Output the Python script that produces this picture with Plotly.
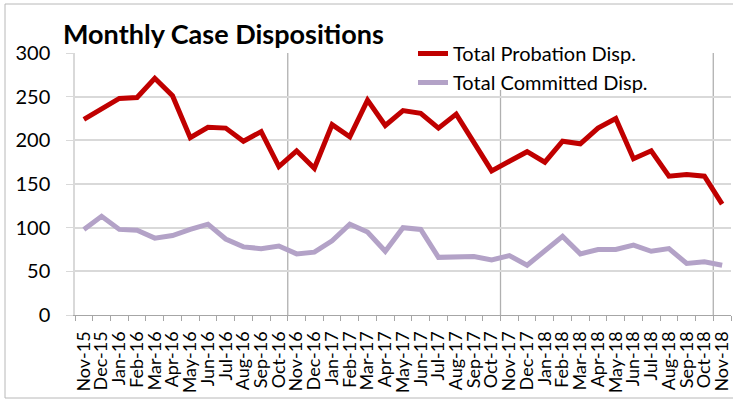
import plotly.graph_objects as go

months = ["Nov-15", "Dec-15", "Jan-16", "Feb-16", "Mar-16", "Apr-16", "May-16", "Jun-16",
          "Jul-16", "Aug-16", "Sep-16", "Oct-16", "Nov-16", "Dec-16", "Jan-17", "Feb-17",
          "Mar-17", "Apr-17", "May-17", "Jun-17", "Jul-17", "Aug-17", "Sep-17", "Oct-17",
          "Nov-17", "Dec-17", "Jan-18", "Feb-18", "Mar-18", "Apr-18", "May-18", "Jun-18",
          "Jul-18", "Aug-18", "Sep-18", "Oct-18", "Nov-18"]

probation = [224, 236, 248, 249, 271, 251, 203, 215, 214, 199, 210, 170,
             188, 168, 218, 204, 246, 217, 234, 231, 214, 230, 198, 165,
             176, 187, 175, 199, 196, 214, 225, 179, 188, 159, 161, 159, 127]

committed = [98, 113, 98, 97, 88, 91, 98, 104, 87, 78, 76, 79,
             70, 72, 85, 104, 95, 73, 100, 98, 66, 66, 67, 63,
             68, 57, 74, 90, 70, 75, 75, 80, 73, 76, 59, 61, 57]

y_ticks = [0, 50, 100, 150, 200, 250, 300]
year_starts = ["Nov-16", "Nov-17", "Nov-18"]

W, H = 733, 402
ML, MR, MT, MB = 75, 2, 53, 87
PW, PH = W - ML - MR, H - MT - MB


def px_x(p):
    return (p - ML) / PW


def px_y(p):
    return (H - MB - p) / PH


FONT = "Lato"

fig = go.Figure()
fig.add_trace(go.Scatter(x=months, y=probation, mode="lines", name="Total Probation Disp.",
                         line=dict(color="#c00000", width=5)))
fig.add_trace(go.Scatter(x=months, y=committed, mode="lines", name="Total Committed Disp.",
                         line=dict(color="#b3a2c7", width=5)))

shapes = []
for m in year_starts:
    xi = months.index(m) - 0.5
    shapes.append(dict(type="line", xref="x", yref="y", x0=xi, x1=xi, y0=0, y1=300,
                       line=dict(color="#b0b0b0", width=1.3), layer="below"))
# white area behind legend
shapes.append(dict(type="rect", xref="paper", yref="paper",
                   x0=px_x(326), x1=px_x(708), y0=px_y(90), y1=px_y(38),
                   fillcolor="white", line=dict(width=0), layer="above"))
# chart border
shapes.append(dict(type="rect", xref="paper", yref="paper",
                   x0=px_x(5), x1=px_x(740), y0=px_y(398), y1=px_y(4),
                   fillcolor="rgba(0,0,0,0)", line=dict(color="#b8b8b8", width=1), layer="below"))

fig.update_layout(
    width=W, height=H,
    margin=dict(l=ML, r=MR, t=MT, b=MB, autoexpand=False),
    paper_bgcolor="white", plot_bgcolor="white",
    font=dict(family=FONT, color="black", size=20),
    title=dict(text="<b>Monthly Case Dispositions</b>", x=63 / W,
               xanchor="left", xref="container", y=1 - 35 / H, yanchor="middle",
               yref="container", font=dict(family=FONT, size=27, color="black")),
    showlegend=True,
    legend=dict(x=px_x(413), y=1 - 34 / H, xanchor="left", yanchor="top", yref="container",
                bgcolor="rgba(0,0,0,0)", font=dict(family=FONT, size=20, color="black"),
                tracegroupgap=0),
    shapes=shapes,
    xaxis=dict(type="category", range=[-0.5, len(months) - 0.5], tickson="boundaries",
               tickmode="linear", tick0=0, dtick=1, automargin=False,
               ticks="outside", ticklen=5, tickcolor="#a6a6a6", tickwidth=1,
               showline=True, linecolor="#a6a6a6", linewidth=1.3, showgrid=False,
               ticklabelstandoff=8,
               tickangle=-90, tickfont=dict(family=FONT, size=18, color="black")),
    yaxis=dict(range=[0, 300], tickvals=y_ticks, showgrid=True, gridcolor="#d9d9d9",
               gridwidth=1.5, ticks="outside", ticklen=7, tickcolor="#d9d9d9",
               showline=True, linecolor="#d9d9d9", linewidth=1.5, zeroline=False,
               automargin=False,
               ticklabelstandoff=12, tickfont=dict(family=FONT, size=20, color="black")),
)

fig.write_html("out.html", config={"displayModeBar": False},
               post_script="document.body.style.margin='0px';")
